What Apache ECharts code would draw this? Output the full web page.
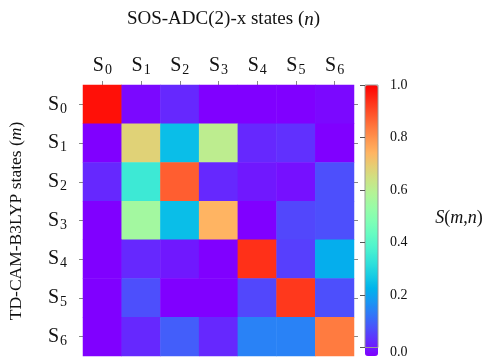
<!DOCTYPE html>
<html>
<head>
<meta charset="utf-8">
<script src="https://cdn.jsdelivr.net/npm/echarts@6/dist/echarts.min.js"></script>
<style>
  html, body { margin: 0; padding: 0; background: #fff; }
  #chart { width: 488px; height: 359px; }
</style>
</head>
<body>
<div id="chart"></div>
<script>
// states along both axes
var xStates = ["S0", "S1", "S2", "S3", "S4", "S5", "S6"];
var yStates = ["S0", "S1", "S2", "S3", "S4", "S5", "S6"];
// overlap S(m,n), one row per TD-CAM-B3LYP state m
var rowS0 = [0.98, 0.01, 0.05, 0.0, 0.0, 0.0, 0.01];
var rowS1 = [0.0, 0.69, 0.27, 0.62, 0.05, 0.06, 0.0];
var rowS2 = [0.05, 0.37, 0.88, 0.05, 0.03, 0.02, 0.10];
var rowS3 = [0.0, 0.57, 0.27, 0.75, 0.0, 0.09, 0.10];
var rowS4 = [0.0, 0.05, 0.03, 0.0, 0.94, 0.08, 0.24];
var rowS5 = [0.0, 0.10, 0.0, 0.0, 0.09, 0.93, 0.10];
var rowS6 = [0.0, 0.05, 0.12, 0.05, 0.17, 0.17, 0.84];

var rows = [rowS0, rowS1, rowS2, rowS3, rowS4, rowS5, rowS6];
var heatData = [];
for (var m = 0; m < rows.length; m++) {
  for (var n = 0; n < rows[m].length; n++) {
    heatData.push([n, m, rows[m][n]]);
  }
}

// matplotlib "rainbow" colormap
function rainbow(x) {
  var r = Math.min(1, Math.abs(2 * x - 0.5));
  var g = Math.max(0, Math.sin(Math.PI * x));
  var b = Math.max(0, Math.cos(Math.PI * x / 2));
  return "rgb(" + Math.round(r * 255) + "," + Math.round(g * 255) + "," + Math.round(b * 255) + ")";
}
var stops = [];
for (var i = 0; i <= 20; i++) {
  stops.push(rainbow(i / 20));
}

var serif = "Liberation Serif";
var stateRich = {
  s: { fontFamily: serif, fontSize: 20, color: "#111", lineHeight: 22 },
  d: { fontFamily: serif, fontSize: 14, color: "#111", lineHeight: 22, padding: [9, 0, 0, 1] },
};
function stateLabel(v) {
  return "{s|S}{d|" + v.slice(1) + "}";
}

var gridLeft = 83, gridTop = 85, gridSize = 271;

var option = {
  backgroundColor: "#fff",
  animation: false,
  title: {
    text: "{a|SOS-ADC(2)-x states (}{i|n}{a|)}",
    left: gridLeft + gridSize / 2,
    top: 5,
    textAlign: "center",
    textStyle: {
      fontWeight: "normal",
      rich: {
        a: { fontFamily: serif, fontSize: 19, fontWeight: "normal", color: "#111" },
        i: { fontFamily: serif, fontSize: 19, fontWeight: "normal", fontStyle: "italic", color: "#111" },
      },
    },
  },
  grid: [
    { left: gridLeft, top: gridTop, width: gridSize, height: gridSize },
    {
      left: 365, top: gridTop, width: 13, height: gridSize,
      show: true, z: 6, backgroundColor: "transparent", borderColor: "#999", borderWidth: 1,
    },
  ],
  xAxis: [
    {
      type: "category",
      gridIndex: 0,
      position: "top",
      data: xStates,
      axisLine: { show: false },
      axisTick: { show: true, alignWithLabel: true, length: 4, lineStyle: { color: "#888" } },
      axisLabel: { interval: 0, margin: 8, formatter: stateLabel, rich: stateRich },
      splitLine: { show: false },
    },
    {
      type: "value",
      gridIndex: 1,
      show: false,
    },
  ],
  yAxis: [
    {
      type: "category",
      gridIndex: 0,
      inverse: true,
      data: yStates,
      axisLine: { show: false },
      axisTick: { show: true, alignWithLabel: true, length: 4, lineStyle: { color: "#888" } },
      axisLabel: { interval: 0, margin: 16, formatter: stateLabel, rich: stateRich },
      splitLine: { show: false },
    },
    {
      type: "category",
      gridIndex: 0,
      position: "right",
      inverse: true,
      data: yStates,
      axisLine: { show: false },
      axisTick: { show: true, alignWithLabel: true, length: 4, lineStyle: { color: "#888" } },
      axisLabel: { show: false },
    },
    {
      type: "value",
      gridIndex: 1,
      position: "right",
      min: 0,
      max: 1,
      interval: 0.2,
      z: 7,
      axisLine: { show: false },
      axisTick: { show: true, inside: true, length: 5, lineStyle: { color: "#555" } },
      axisLabel: {
        margin: 12,
        fontFamily: serif,
        fontSize: 14,
        color: "#111",
        formatter: function (v) {
          // the bottom label sits lower, partly cut by the page edge
          return v === 0 ? "{lo|0.0}" : v.toFixed(1);
        },
        rich: {
          lo: { fontFamily: serif, fontSize: 14, color: "#111", padding: [9, 0, 0, 0] },
        },
      },
      splitLine: { show: false },
    },
  ],
  visualMap: {
    type: "continuous",
    min: 0,
    max: 1,
    seriesIndex: 0,
    orient: "vertical",
    left: 365,
    top: gridTop,
    padding: 0,
    itemWidth: 13,
    itemHeight: gridSize,
    calculable: false,
    hoverLink: false,
    showLabel: false,
    text: null,
    inRange: { color: stops },
  },
  graphic: [
    {
      type: "text",
      x: 16,
      y: 221,
      rotation: Math.PI / 2,
      style: {
        text: "{a|TD-CAM-B3LYP states (}{i|m}{a|)}",
        align: "center",
        verticalAlign: "middle",
        rich: {
          a: { fontFamily: serif, fontSize: 17.5, fill: "#111" },
          i: { fontFamily: serif, fontSize: 17.5, fontStyle: "italic", fill: "#111" },
        },
      },
    },
    {
      type: "text",
      x: 459,
      y: 218,
      style: {
        text: "{i|S}{a|(}{i|m}{a|,}{i|n}{a|)}",
        align: "center",
        verticalAlign: "middle",
        rich: {
          a: { fontFamily: serif, fontSize: 18, fill: "#111" },
          i: { fontFamily: serif, fontSize: 18, fontStyle: "italic", fill: "#111" },
        },
      },
    },
  ],
  series: [
    {
      type: "heatmap",
      xAxisIndex: 0,
      yAxisIndex: 0,
      data: heatData,
      itemStyle: { borderWidth: 0 },
      emphasis: { disabled: true },
    },
  ],
};

var myChart = echarts.init(document.getElementById("chart"));
myChart.setOption(option);
</script>
</body>
</html>
